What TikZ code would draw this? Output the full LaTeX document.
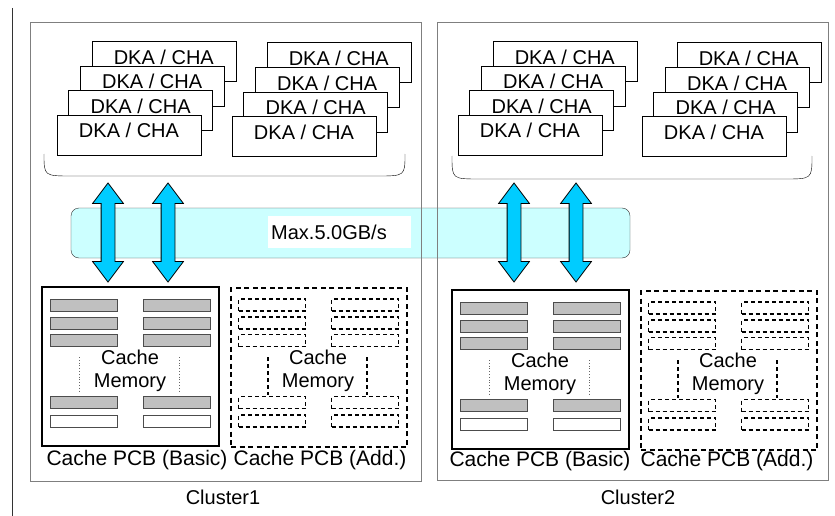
\documentclass[tikz,border=0pt]{standalone}
\usepackage{fontspec}
\setmainfont{Liberation Sans}
\usetikzlibrary{shapes.arrows, positioning, fit}
\definecolor{busfill}{HTML}{CCFFFF}
\definecolor{arrowfill}{HTML}{00CCFF}
\definecolor{barfill}{HTML}{C0C0C0}
\definecolor{framegray}{HTML}{7F7F7F}

\begin{document}
\begin{tikzpicture}[x=1pt, y=-1pt, font=\fontsize{20}{23}\selectfont,
  cluster/.style={draw=framegray, line width=1pt, inner sep=0pt},
  dka/.style={draw, fill=white, minimum width=144pt, minimum height=40pt, inner sep=0pt, text height=14pt, text depth=8pt},
  bus/.style={draw=black!80, fill=busfill, rounded corners=8pt, inner sep=0pt},
  busarrow/.style={double arrow, draw, fill=arrowfill, line width=0.8pt, rotate=90, inner xsep=0pt, inner ysep=6.5pt,
    minimum height=99pt, minimum width=30pt, double arrow head extend=8.5pt, double arrow tip angle=74},
  pcbbasic/.style={draw, line width=2pt, inner sep=0pt},
  pcbadd/.style={draw, line width=1.5pt, dash pattern=on 5pt off 3.5pt, inner sep=0pt},
  bar/.style={draw=black!70, line width=0.8pt, minimum width=67pt, minimum height=12pt, inner sep=0pt},
  addbar/.style={draw, line width=1.2pt, dash pattern=on 4pt off 3pt, minimum width=67pt, minimum height=12pt, inner sep=0pt},
  memtext/.style={align=center, inner sep=0pt},
  pcblabel/.style={font=\fontsize{21}{24}\selectfont}
]
\useasboundingbox (0,0) rectangle (835,516);

\draw[black!80, line width=1pt] (12,8) -- (12,516);

% bus between the clusters
\node[bus, minimum width=559pt, minimum height=50pt] (bus) at (350.5,233) {};

% cluster frames
\node[cluster, minimum width=391pt, minimum height=458pt] (cl1) at (225.5,252) {};
\node[cluster, minimum width=391pt, minimum height=457pt] (cl2) at (632.5,251.5) {};
\node (cl1lbl) at (223,497) {Cluster1};
\node (cl2lbl) at (638,497) {Cluster2};

\node[fill=white, anchor=west, text width=137pt, align=left, inner sep=3pt, minimum height=32pt] (speed) at (268,232) {Max.5.0GB/s};

% DKA / CHA stacks
\foreach \n/\x/\y in {a/129/135, b/304/136.5, c/530/135, d/714/136.5} {
  \foreach \k in {3,2,1,0}
    \node[dka] (dka\n\k) at ({\x+11.6*\k},{\y-24.6*\k}) {DKA / CHA};
}
\draw (44,154) .. controls (44,176) .. (72,176) -- (377,176) .. controls (405,176) .. (405,154);
\draw (452,156) .. controls (452,179) .. (480,179) -- (784,179) .. controls (812,179) .. (812,156);

% arrows through the bus
\foreach \i/\x in {1/108, 2/168, 3/514, 4/576}
  \node[busarrow] (arr\i) at (\x,232.5) {};

% cache boards
\foreach \c/\dx/\dy in {1/0/0, 2/410/3} {
  \node[pcbbasic, minimum width=177pt, minimum height=159pt] (pcbB\c) at ({130.5+\dx},{366.5+\dy}) {};
  \node[pcbadd, minimum width=176pt, minimum height=159pt] (pcbA\c) at ({319+\dx},{367.5+\dy}) {};
  \foreach \col/\x in {l/83.5, r/176.5} {
    \foreach \r/\y/\f in {1/305/barfill, 2/323/barfill, 3/340.5/barfill, 4/402.5/barfill, 5/421/white}
      \node[bar, fill=\f] (bB\c\col\r) at ({\x+\dx},{\y+\dy}) {};
    \foreach \r/\y in {1/305, 2/323, 3/340.5, 4/402.5, 5/421}
      \node[addbar] (bA\c\col\r) at ({\x+188.5+\dx},{\y+\dy}) {};
  }
  \node[memtext] (memB\c) at ({130+\dx},{370.5+\dy}) {Cache\\Memory};
  \node[memtext] (memA\c) at ({318+\dx},{370.5+\dy}) {Cache\\Memory};
  \draw[black!60, dotted, line width=0.8pt] ({79+\dx},{357+\dy}) -- ({79+\dx},{393+\dy});
  \draw[black!60, dotted, line width=0.8pt] ({179+\dx},{357+\dy}) -- ({179+\dx},{393+\dy});
  \draw[line width=1.2pt, dash pattern=on 4pt off 3pt] ({268+\dx},{357+\dy}) -- ({268+\dx},{395+\dy});
  \draw[line width=1.2pt, dash pattern=on 4pt off 3pt] ({367+\dx},{357+\dy}) -- ({367+\dx},{395+\dy});
}
\node[pcblabel] (lblB1) at (137,460) {Cache PCB (Basic)};
\node[pcblabel] (lblA1) at (320,460) {Cache PCB (Add.)};
\node[pcblabel] (lblB2) at (540,461) {Cache PCB (Basic)};
\node[pcblabel] (lblA2) at (727,461) {Cache PCB (Add.)};
\end{tikzpicture}
\end{document}
